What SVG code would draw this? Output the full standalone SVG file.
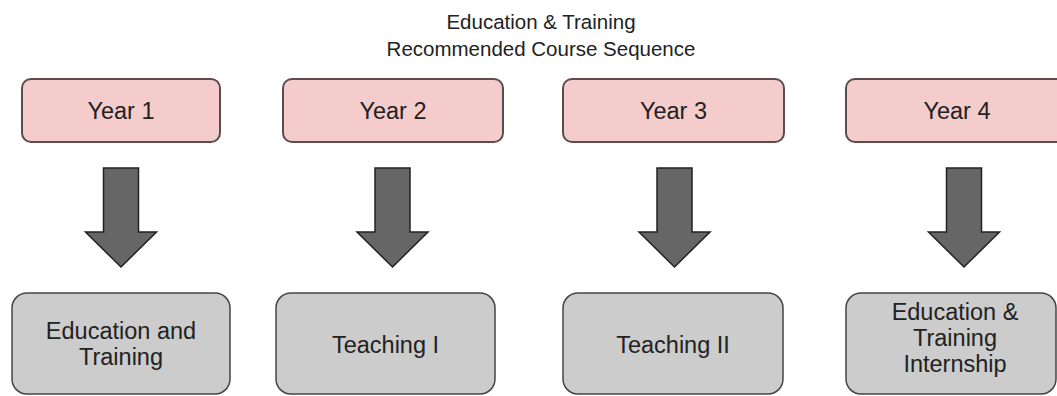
<svg xmlns="http://www.w3.org/2000/svg" width="1057" height="396" viewBox="0 0 1057 396">
<style>
text{font-family:"Liberation Sans",Arial,sans-serif;fill:#222;text-anchor:middle}
.title{font-size:20.5px}
.lbl{font-size:23.5px}
.year{fill:#f4cccc;stroke:#5e4b4b;stroke-width:2}
.course{fill:#cccccc;stroke:#444;stroke-width:1.5}
.arrow{fill:#666;stroke:#222;stroke-width:1.5;stroke-linejoin:miter}
</style>
<rect width="1057" height="396" fill="#fff"/>
<g id="title">
<text class="title" x="541" y="29">Education &amp; Training</text>
<text class="title" x="541" y="56">Recommended Course Sequence</text>
</g>
<g id="year1"><rect class="year" x="22" y="79" width="198" height="63" rx="9"/><text class="lbl" x="121" y="119">Year 1</text></g>
<g id="year2"><rect class="year" x="283" y="79" width="220" height="63" rx="9"/><text class="lbl" x="393" y="119">Year 2</text></g>
<g id="year3"><rect class="year" x="563" y="79" width="221" height="63" rx="9"/><text class="lbl" x="673.5" y="119">Year 3</text></g>
<g id="year4"><rect class="year" x="846" y="79" width="222" height="63" rx="9"/><text class="lbl" x="957" y="119">Year 4</text></g>
<g id="connectors">
<path class="arrow" d="M103.5 168H138.5V232H156.5L121 267L85.5 232H103.5Z"/>
<path class="arrow" d="M375 168H410V232H428L392.5 267L357 232H375Z"/>
<path class="arrow" d="M657 168H692V232H710L674.5 267L639 232H657Z"/>
<path class="arrow" d="M946.5 168H981.5V232H999.5L964 267L928.5 232H946.5Z"/>
</g>
<g id="course1"><rect class="course" x="12" y="293" width="218" height="101" rx="15"/><text class="lbl" x="121" y="339">Education and</text><text class="lbl" x="121" y="365">Training</text></g>
<g id="course2"><rect class="course" x="276" y="293" width="219" height="101" rx="15"/><text class="lbl" x="385.5" y="353">Teaching I</text></g>
<g id="course3"><rect class="course" x="563" y="293" width="220" height="101" rx="15"/><text class="lbl" x="673" y="353">Teaching II</text></g>
<g id="course4"><rect class="course" x="846" y="293" width="210" height="101" rx="15"/><text class="lbl" x="955" y="320">Education &amp;</text><text class="lbl" x="955" y="346">Training</text><text class="lbl" x="955" y="372">Internship</text></g>
</svg>
